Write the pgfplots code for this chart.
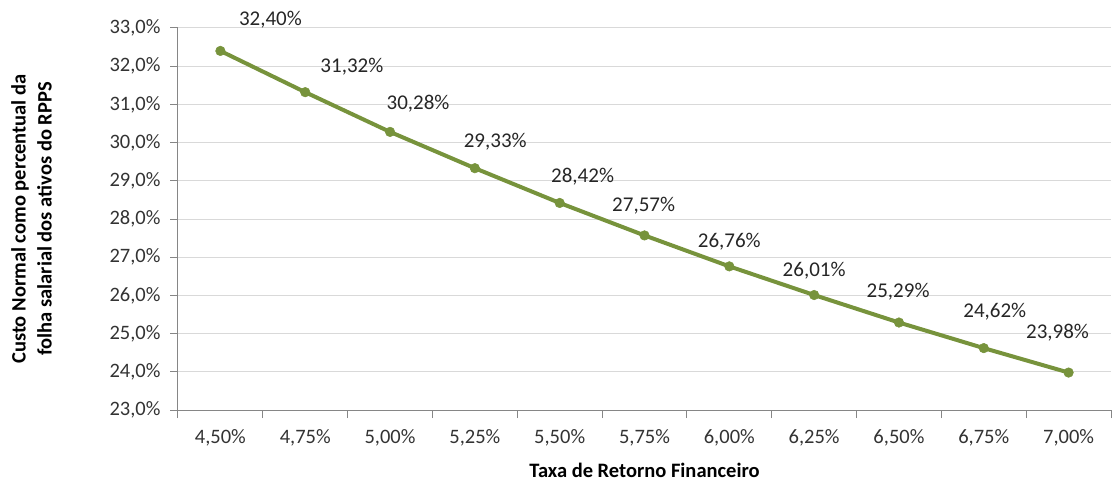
\documentclass[border=0pt]{standalone}
\usepackage{pgfplots}
\pgfplotsset{compat=1.18}
\usepackage{fontspec}
\setmainfont{Carlito}
\definecolor{linegreen}{HTML}{77933C}
\definecolor{gridgray}{HTML}{D9D9D9}
\definecolor{axisgray}{HTML}{868686}
\begin{document}
\begin{tikzpicture}
\begin{axis}[
    scale only axis,
    width=933pt, height=382pt,
    xmin=-0.5, xmax=10.5,
    ymin=23, ymax=33,
    clip=false,
    font=\fontsize{20.5}{24}\selectfont,
    axis x line*=bottom, axis y line*=left,
    axis line style={axisgray, line width=1pt},
    xtick={0,...,10},
    xticklabels={{4,50\%},{4,75\%},{5,00\%},{5,25\%},{5,50\%},{5,75\%},{6,00\%},{6,25\%},{6,50\%},{6,75\%},{7,00\%}},
    minor xtick={-0.5,0.5,...,10.5},
    x tick style={draw=none},
    minor x tick style={draw=axisgray, line width=1pt},
    minor tick length=8pt,
    ytick={23,...,33},
    yticklabels={{23,0\%},{24,0\%},{25,0\%},{26,0\%},{27,0\%},{28,0\%},{29,0\%},{30,0\%},{31,0\%},{32,0\%},{33,0\%}},
    y tick style={axisgray, line width=1pt},
    major tick length=8pt,
    tick align=outside,
    ymajorgrids,
    grid style={gridgray, line width=1pt},
    xticklabel style={yshift=-8pt, text=black!80},
    yticklabel style={xshift=-6pt, text=black!80},
    xlabel={\bfseries Taxa de Retorno Financeiro},
    ylabel={\bfseries Custo Normal como percentual da\\\bfseries folha salarial dos ativos do RPPS},
    ylabel style={align=center, font=\fontsize{20.5}{26}\selectfont, yshift=51pt},
    xlabel style={font=\fontsize{20.5}{24}\selectfont, yshift=-10pt},
]
\addplot[linegreen, line width=4pt, mark=*, mark size=4.8pt, mark options={fill=linegreen, draw=linegreen, line width=0.5pt}] coordinates {
    (0, 32.40) (1, 31.32) (2, 30.28) (3, 29.33) (4, 28.42) (5, 27.57)
    (6, 26.76) (7, 26.01) (8, 25.29) (9, 24.62) (10, 23.98)
};
\begin{scope}[every node/.style={text=black!85, font=\fontsize{21}{24}\selectfont}]
\node at (axis cs:0.59,33.21) {32,40\%};
\node at (axis cs:1.55,31.98) {31,32\%};
\node at (axis cs:2.33,31.01) {30,28\%};
\node at (axis cs:3.24,30.02) {29,33\%};
\node at (axis cs:4.27,29.10) {28,42\%};
\node at (axis cs:4.99,28.34) {27,57\%};
\node at (axis cs:6.00,27.40) {26,76\%};
\node at (axis cs:7.00,26.64) {26,01\%};
\node at (axis cs:7.99,26.09) {25,29\%};
\node at (axis cs:9.13,25.57) {24,62\%};
\node at (axis cs:9.87,25.02) {23,98\%};
\end{scope}
% page frame: room around the axis as in the reference
\path (rel axis cs:0,1) ++(-178pt,28pt) (rel axis cs:1,0) ++(2pt,-72pt);
\end{axis}
\end{tikzpicture}
\end{document}
